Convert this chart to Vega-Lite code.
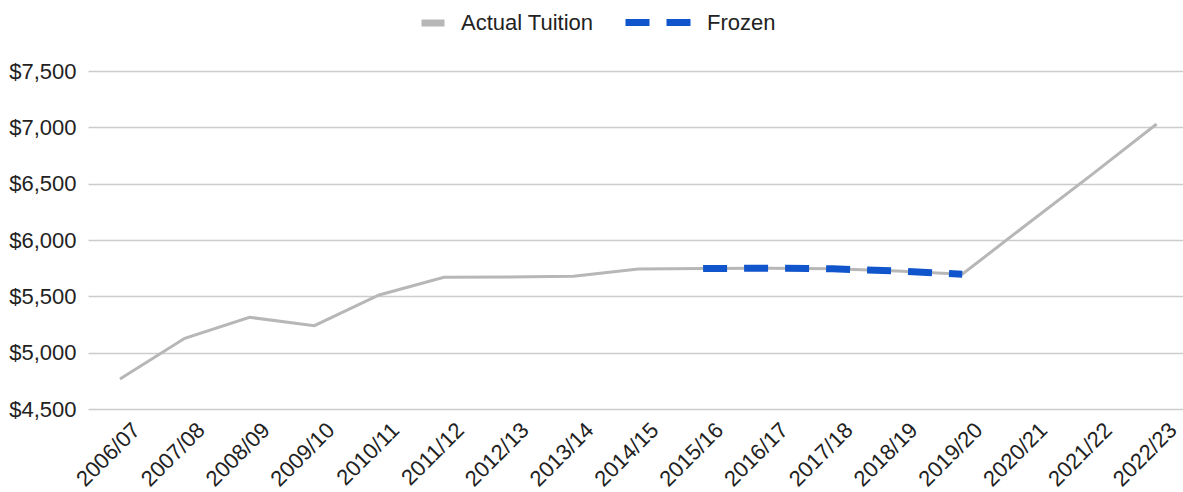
{
  "$schema": "https://vega.github.io/schema/vega-lite/v6.json",
  "width": 1095,
  "height": 338,
  "autosize": {"type": "none"},
  "padding": {"left": 88, "top": 71, "right": 0, "bottom": 83},
  "background": "white",
  "config": {
    "view": {"stroke": null},
    "font": "Liberation Sans",
    "legend": {"padding": 0, "labelColor": "#222222", "labelFontSize": 22, "labelFont": "Liberation Sans"},
    "axis": {"labelFont": "Liberation Sans", "labelColor": "#222222", "labelFontSize": 22}
  },
  "datasets": {
    "actual": [
      {"year": "2006/07", "tuition": 4767, "series": "Actual Tuition"},
      {"year": "2007/08", "tuition": 5128, "series": "Actual Tuition"},
      {"year": "2008/09", "tuition": 5314, "series": "Actual Tuition"},
      {"year": "2009/10", "tuition": 5240, "series": "Actual Tuition"},
      {"year": "2010/11", "tuition": 5512, "series": "Actual Tuition"},
      {"year": "2011/12", "tuition": 5669, "series": "Actual Tuition"},
      {"year": "2012/13", "tuition": 5672, "series": "Actual Tuition"},
      {"year": "2013/14", "tuition": 5678, "series": "Actual Tuition"},
      {"year": "2014/15", "tuition": 5743, "series": "Actual Tuition"},
      {"year": "2015/16", "tuition": 5746, "series": "Actual Tuition"},
      {"year": "2016/17", "tuition": 5750, "series": "Actual Tuition"},
      {"year": "2017/18", "tuition": 5744, "series": "Actual Tuition"},
      {"year": "2018/19", "tuition": 5725, "series": "Actual Tuition"},
      {"year": "2019/20", "tuition": 5696, "series": "Actual Tuition"},
      {"year": "2020/21", "tuition": 6140, "series": "Actual Tuition"},
      {"year": "2021/22", "tuition": 6580, "series": "Actual Tuition"},
      {"year": "2022/23", "tuition": 7030, "series": "Actual Tuition"}
    ],
    "frozen": [
      {"year": "2015/16", "tuition": 5746, "status": "Frozen"},
      {"year": "2016/17", "tuition": 5750, "status": "Frozen"},
      {"year": "2017/18", "tuition": 5744, "status": "Frozen"},
      {"year": "2018/19", "tuition": 5725, "status": "Frozen"},
      {"year": "2019/20", "tuition": 5696, "status": "Frozen"}
    ]
  },
  "encoding": {
    "x": {
      "field": "year",
      "type": "ordinal",
      "scale": {"type": "point", "padding": 0.45, "align": 0.548},
      "axis": {"title": null, "labelAngle": -45, "domain": false, "ticks": false, "grid": false, "labelPadding": 10, "labelOffset": 9}
    },
    "y": {
      "field": "tuition",
      "type": "quantitative",
      "scale": {"domain": [4500, 7500], "nice": false, "zero": false},
      "axis": {
        "title": null,
        "values": [4500, 5000, 5500, 6000, 6500, 7000, 7500],
        "format": "$,.0f",
        "domain": false,
        "ticks": false,
        "gridColor": "#cccccc",
        "gridWidth": 1.5,
        "labelPadding": 12
      }
    }
  },
  "layer": [
    {
      "data": {"name": "actual"},
      "mark": {"type": "line", "strokeWidth": 3},
      "encoding": {
        "color": {
          "field": "series",
          "type": "nominal",
          "scale": {"range": ["#b7b7b7"]},
          "legend": {
            "title": null,
            "orient": "none",
            "legendX": 330,
            "legendY": -63,
            "symbolType": "stroke",
            "symbolSize": 529,
            "symbolStrokeWidth": 7,
            "labelOffset": 13
          }
        }
      }
    },
    {
      "data": {"name": "frozen"},
      "mark": {"type": "line", "strokeWidth": 7, "color": "#1155cc"},
      "encoding": {
        "strokeDash": {
          "field": "status",
          "type": "nominal",
          "scale": {"range": [[24, 17]]},
          "legend": {
            "title": null,
            "orient": "none",
            "legendX": 534,
            "legendY": -85,
            "symbolType": "stroke",
            "symbolSize": 4356,
            "symbolStrokeWidth": 7,
            "symbolStrokeColor": "#1155cc",
            "labelOffset": 12
          }
        }
      }
    }
  ]
}
